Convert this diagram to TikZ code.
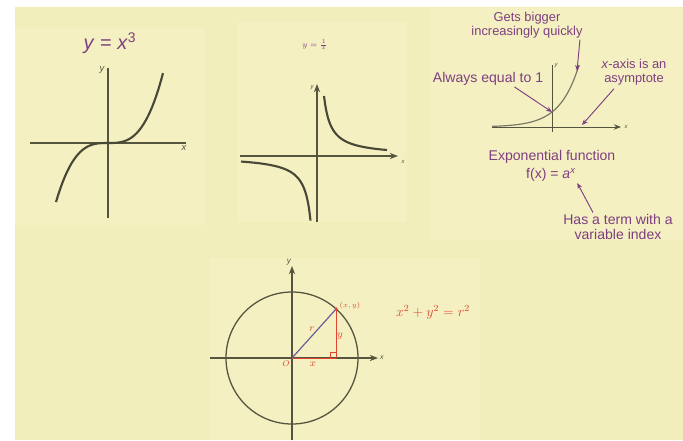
\documentclass[tikz,border=0pt]{standalone}
\usepackage{fontspec}
\setmainfont{Liberation Sans}
\usepackage{amsmath}
\usetikzlibrary{arrows.meta,positioning,calc}
\definecolor{paper}{HTML}{F2EEBC}
\definecolor{panel}{HTML}{F4F0C2}
\definecolor{plum}{HTML}{7E3F80}
\definecolor{ink}{HTML}{55553F}
\definecolor{redpen}{HTML}{E2452F}
\definecolor{bluepen}{HTML}{6A5A9A}
\tikzset{
  >=Stealth,
  axis/.style={draw=ink, line width=0.9pt},
  graph/.style={draw=ink!85!black, line width=1.8pt},
}

\begin{document}
\begin{tikzpicture}[
  x=0.03cm, y=-0.03cm,
  note/.style={text=plum, font=\fontsize{12}{13.5}\selectfont, align=center, inner sep=1pt},
  pointer/.style={->, draw=plum, line width=0.8pt, >={Stealth[length=5pt,width=4pt]}},
  lbl/.style={text=ink, font=\fontsize{8}{9}\selectfont\itshape, inner sep=1pt},
  pen/.style={text=redpen, inner sep=1pt, font=\fontsize{9}{10}\selectfont}
]
\useasboundingbox (0,0) rectangle (683,440);
\fill[white] (0,0) rectangle (683,440);
\fill[paper] (15,7) rectangle (683,440);
\fill[panel] (15,28) rectangle (205,225);
\fill[panel] (237,22) rectangle (407,222);
\fill[panel] (430,8) rectangle (683,240);
\fill[panel] (210,258) rectangle (480,440);

% y = x^3
\coordinate (O1) at (108,143);
\node[text=plum, font=\fontsize{17}{19}\selectfont] (t1) at (110,43) {\textit{y} = \textit{x}\textsuperscript{3}};
\draw[axis] (30,143) -- (186,143);
\draw[axis] (108,218) -- (108,68);
\node[lbl] (x1) at (184,148) {x};
\node[lbl] (y1) at (102,70) {y};
\draw[graph] plot[domain=-52:55, samples=50, smooth] ({108+\x}, {143-0.42*(\x/10)*(\x/10)*(\x/10)});

% y = 1/x
\coordinate (O2) at (317,156);
\node[text=plum, font=\fontsize{7.5}{9}\selectfont] (t2) at (315,45) {$y=\frac{1}{x}$};
\draw[axis, ->] (240,156) -- (398,156);
\draw[axis, ->] (317,222) -- (317,84);
\node[lbl, font=\fontsize{5}{6}\selectfont\itshape] (x2) at (403,162) {x};
\node[lbl, font=\fontsize{5}{6}\selectfont\itshape] (y2) at (312,88) {y};
\draw[graph] plot[domain=7:70, samples=50, smooth] ({317+\x}, {156-420/\x});
\draw[graph] plot[domain=-76:-6.5, samples=50, smooth] ({317+\x}, {156-420/\x});

% exponential
\coordinate (O3) at (552,127);
\draw[axis, line width=0.7pt, ->] (492,127) -- (621,127);
\draw[axis, line width=0.7pt] (552,132) -- (552,65);
\node[lbl, font=\fontsize{5}{6}\selectfont\itshape] (x3) at (626,127) {x};
\node[lbl, font=\fontsize{5}{6}\selectfont\itshape] (y3) at (556,66) {y};
\draw[draw=ink!80, line width=1pt] plot[domain=-60:27, samples=50, smooth] ({552+\x}, {127-15*exp(0.0526*\x)});
\coordinate (one) at (552,112);
\coordinate (steep) at (577,71);
\coordinate (asym) at (582,125);

\node[note, font=\fontsize{11}{12.5}\selectfont] (big) at (527,25) {Gets bigger\\increasingly quickly};
\node[note] (always) at (488,79) {Always equal to 1};
\node[note, font=\fontsize{11}{12.5}\selectfont] (asy) at (634,72) {\textit{x}-axis is an\\asymptote};
\node[note] (expo) at (552,157) {Exponential function};
\node[note] (fx) at (551,175) {f(x) = \textit{a}\textsuperscript{\textit{x}}};
\node[note] (term) at (618,227) {Has a term with a\\variable index};

\draw[pointer] ($(big.south east)+(-4,0)$) -- (steep);
\draw[pointer] ($(always.south east)+(-30,0)$) -- (one);
\draw[pointer] ($(asy.south)+(-20,2)$) -- (asym);
\draw[pointer] ($(term.north)+(-25,0)$) -- (fx.south east);

% circle
\coordinate (O4) at (292,358);
\draw[axis, line width=1.1pt] (O4) circle[radius=1.98cm];
\draw[axis, ->] (210,358) -- (378,358);
\draw[axis, ->] (292,440) -- (292,266);
\node[lbl, font=\fontsize{6}{7}\selectfont\itshape] (x4) at (382,358) {x};
\node[lbl, font=\fontsize{7}{8}\selectfont\itshape] (y4) at (289,262) {y};
\coordinate (P) at ($(O4)+(48:1.98cm)$);
\coordinate (F) at (P |- O4);
\draw[redpen, line width=0.8pt] (O4) -- (F);
\draw[redpen, line width=0.8pt] (P) -- (F);
\draw[bluepen, line width=1pt] (O4) -- (P);
\draw[redpen, line width=0.6pt] ($(F)+(-6,0)$) -- ++(0,-6) -- ++(6,0);
\fill[redpen] (P) circle[radius=1.5pt];
\node[pen, font=\fontsize{6}{7}\selectfont] (pxy) at (350,306) {$(x,y)$};
\node[pen] (rr) at (312,329) {$r$};
\node[pen] (yy) at (340,336) {$y$};
\node[pen] (xx) at (313,364) {$x$};
\node[pen, font=\fontsize{7}{8}\selectfont] (oo) at (286,364) {$O$};
\node[pen, font=\fontsize{12}{14}\selectfont] (eq) at (433,312) {$x^2+y^2=r^2$};

\end{tikzpicture}
\end{document}
